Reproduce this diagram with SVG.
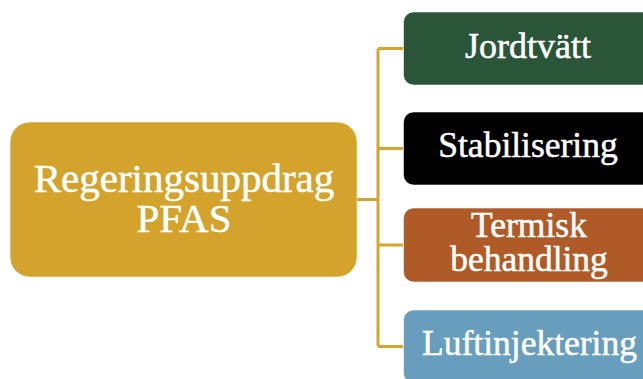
<svg xmlns="http://www.w3.org/2000/svg" width="643" height="379" viewBox="0 0 643 379">
<style>
.box{stroke:#ffffff;stroke-opacity:0.55;stroke-width:1}
.lbl{font-family:"Liberation Serif","Times New Roman",serif;fill:#ffffff;stroke:#ffffff;stroke-width:0.5;text-anchor:middle}
.conn{fill:none;stroke:#D5A52E;stroke-width:3}
</style>
<rect width="643" height="379" fill="#ffffff"/>
<g id="connectors">
<path class="conn" d="M357 199.5H378M378 48.5V346.5M378 48.5H403M378 148.5H403M378 245H403M378 346.5H403"/>
</g>
<g id="root">
<rect class="box" x="10" y="122" width="347" height="155" rx="20" fill="#D4A32B"/>
<text class="lbl" x="184" y="192" font-size="41">Regeringsuppdrag</text>
<text class="lbl" x="184" y="232" font-size="41">PFAS</text>
</g>
<g id="jordtvatt">
<rect class="box" x="403.5" y="12" width="250" height="73" rx="10" fill="#2A5538"/>
<text class="lbl" x="528" y="58" font-size="36">Jordtvätt</text>
</g>
<g id="stabilisering">
<rect class="box" x="403.5" y="112" width="250" height="73" rx="10" fill="#000000"/>
<text class="lbl" x="528" y="157" font-size="35.5">Stabilisering</text>
</g>
<g id="termisk">
<rect class="box" x="403.5" y="208" width="250" height="74" rx="10" fill="#B05B27"/>
<text class="lbl" x="529" y="237" font-size="35.5">Termisk</text>
<text class="lbl" x="529" y="271" font-size="35.5">behandling</text>
</g>
<g id="luftinjektering">
<rect class="box" x="403.5" y="310" width="250" height="73" rx="10" fill="#679DBD"/>
<text class="lbl" x="529.5" y="355" font-size="35.5">Luftinjektering</text>
</g>
</svg>
